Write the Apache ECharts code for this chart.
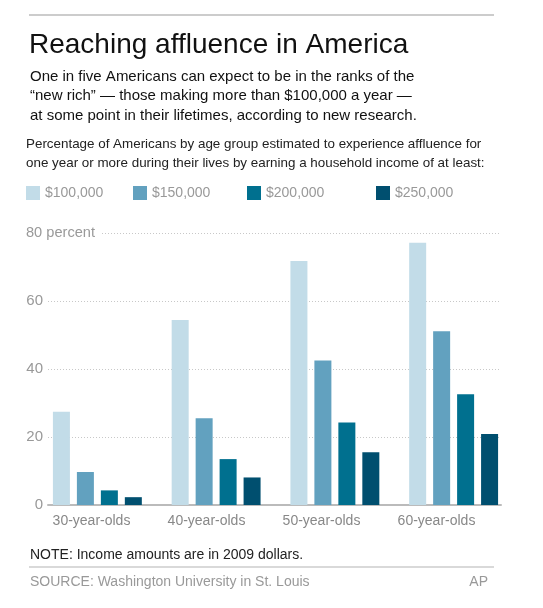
<!DOCTYPE html>
<html>
<head>
<meta charset="utf-8">
<script src="https://cdn.jsdelivr.net/npm/echarts@6/dist/echarts.min.js"></script>
<style>
html,body{margin:0;padding:0;background:#fff;}
#chart{width:543px;height:608px;}
</style>
</head>
<body>
<div id="chart"></div>
<script>
const categories = ['30-year-olds', '40-year-olds', '50-year-olds', '60-year-olds'];
const seriesNames = ['$100,000', '$150,000', '$200,000', '$250,000'];
const v100k = [27.4, 54.4, 71.8, 77.1];
const v150k = [9.7, 25.5, 42.5, 51.1];
const v200k = [4.3, 13.5, 24.3, 32.6];
const v250k = [2.3, 8.1, 15.5, 20.9];
const yTicks = [0, 20, 40, 60, 80];
const colors = ['#c2dce8', '#62a1bf', '#00708f', '#004f6f'];

const FONT = '"Liberation Sans", Arial, sans-serif';
const chart = echarts.init(document.getElementById('chart'), null, {renderer: 'canvas'});

const gridTop = 233, gridBottom = 608 - 505;
const values = [v100k, v150k, v200k, v250k];
const legendLefts = [21, 128, 242, 371];

const option = {
  backgroundColor: '#fff',
  animation: false,
  textStyle: {fontFamily: FONT},
  title: [
    {text: 'Reaching affluence in America', left: 24, top: 26,
     textStyle: {fontFamily: FONT, fontSize: 28, fontWeight: 'normal', color: '#111'}},
    {text: 'One in five Americans can expect to be in the ranks of the\n\u201cnew rich\u201d \u2014 those making more than $100,000 a year \u2014\nat some point in their lifetimes, according to new research.',
     left: 25, top: 62,
     textStyle: {fontFamily: FONT, fontSize: 15, lineHeight: 19.5, fontWeight: 'normal', color: '#111'}},
    {text: 'Percentage of Americans by age group estimated to experience affluence for\none year or more during their lives by earning a household income of at least:',
     left: 21, top: 130,
     textStyle: {fontFamily: FONT, fontSize: 13.4, lineHeight: 19, fontWeight: 'normal', color: '#222'}},
    {text: 'NOTE: Income amounts are in 2009 dollars.', left: 25, top: 543,
     textStyle: {fontFamily: FONT, fontSize: 14, fontWeight: 'normal', color: '#222'}},
    {text: 'SOURCE: Washington University in St. Louis', left: 25, top: 570,
     textStyle: {fontFamily: FONT, fontSize: 14, fontWeight: 'normal', color: '#999'}},
    {text: 'AP', right: 50, top: 570,
     textStyle: {fontFamily: FONT, fontSize: 14, fontWeight: 'normal', color: '#999'}}
  ],
  graphic: [
    {type: 'line', shape: {x1: 29, y1: 15, x2: 494, y2: 15}, style: {stroke: '#cccccc', lineWidth: 2}},
    {type: 'line', shape: {x1: 29, y1: 567, x2: 494, y2: 567}, style: {stroke: '#cccccc', lineWidth: 1.5}}
  ],
  legend: seriesNames.map((n, i) => ({
    data: [n], left: legendLefts[i], top: 181, itemWidth: 14, itemHeight: 14, itemGap: 5,
    icon: 'rect', selectedMode: false,
    textStyle: {fontFamily: FONT, fontSize: 14, color: '#999'}
  })),
  grid: [
    {left: 48, right: 543 - 501, top: gridTop, bottom: gridBottom},
    {left: 38, right: 543 - 513, top: gridTop, bottom: gridBottom},
    {left: 34, right: 543 - 494, top: gridTop, bottom: gridBottom}
  ],
  xAxis: [
    {type: 'category', gridIndex: 0, data: categories,
     axisLine: {show: true, lineStyle: {color: '#bbbbbb', width: 2}},
     axisTick: {show: false}, axisLabel: {show: false}, splitLine: {show: false}},
    {type: 'category', gridIndex: 1, data: categories, show: false},
    {type: 'category', gridIndex: 2, data: categories,
     axisLine: {show: false}, axisTick: {show: false},
     axisLabel: {show: true, margin: 9, fontFamily: FONT, fontSize: 14, color: '#888'}}
  ],
  yAxis: [
    {type: 'value', gridIndex: 0, min: 0, max: 80, interval: 20,
     axisLine: {show: false}, axisTick: {show: false},
     axisLabel: {margin: 5, fontFamily: FONT, fontSize: 15, color: '#999',
       formatter: v => (v === yTicks[4] ? '' : String(v))},
     splitLine: {show: true, lineStyle: {color: '#c8c8c8', type: [1, 2], width: 1}}},
    {type: 'value', gridIndex: 1, min: 0, max: 80, interval: 20,
     axisLine: {show: false}, axisTick: {show: false}, splitLine: {show: false},
     axisLabel: {margin: 12, align: 'left', fontFamily: FONT, fontSize: 14.6, color: '#999',
       formatter: v => (v === yTicks[4] ? '{w|' + v + ' percent}' : ''),
       rich: {w: {fontFamily: FONT, fontSize: 14.6, color: '#999', backgroundColor: '#fff', padding: [2, 6, 2, 0]}}}},
    {type: 'value', gridIndex: 2, min: 0, max: 80, show: false}
  ],
  series: seriesNames.map((n, i) => ({
    name: n, type: 'bar', xAxisIndex: 1, yAxisIndex: 1,
    data: values[i], barWidth: 17, barGap: '41%',
    itemStyle: {color: colors[i]}
  })),
  color: colors
};
chart.setOption(option);
</script>
</body>
</html>
